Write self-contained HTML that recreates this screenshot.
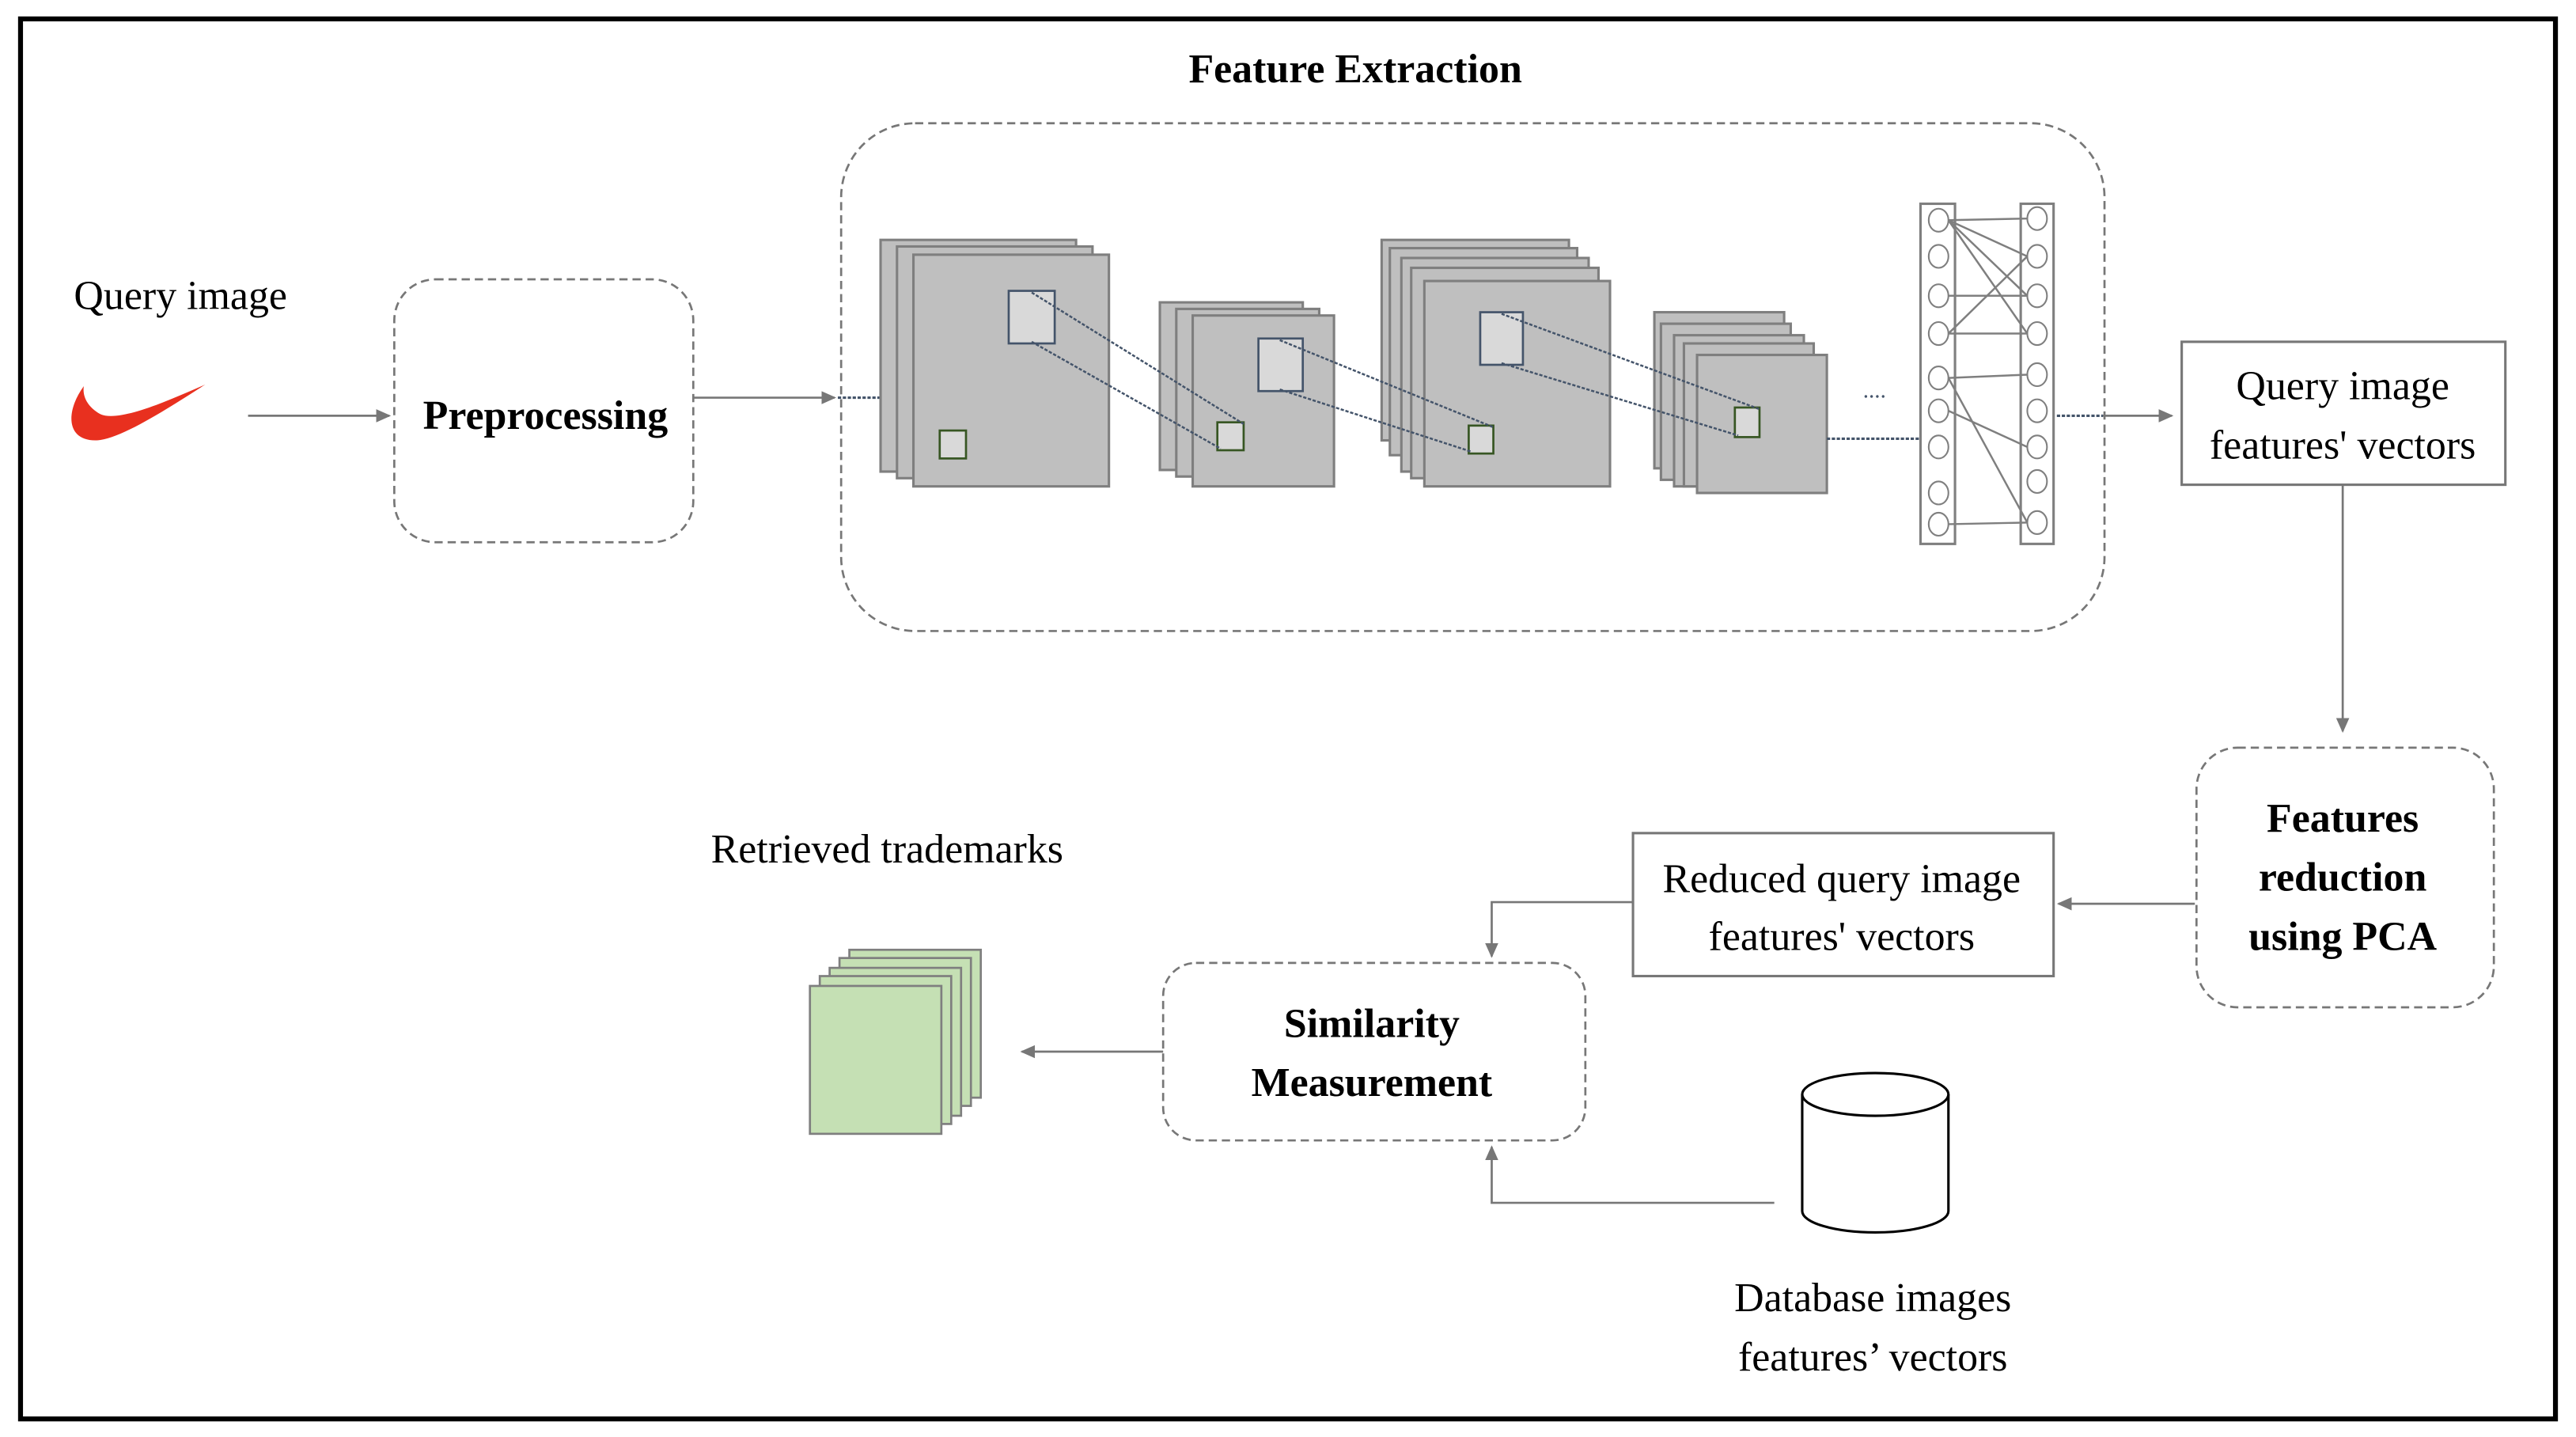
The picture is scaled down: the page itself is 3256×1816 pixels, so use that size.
<!DOCTYPE html>
<html><head><meta charset="utf-8"><style>html,body{margin:0;padding:0;background:#fff}svg{display:block}</style></head>
<body>
<svg width="3256" height="1816" viewBox="0 0 1568 874.5" preserveAspectRatio="none" xmlns="http://www.w3.org/2000/svg" font-family="'Liberation Serif', serif">
<defs>
<marker id="ah" markerWidth="10" markerHeight="10" refX="8" refY="4" orient="auto" markerUnits="userSpaceOnUse"><path d="M0,0 L9,4 L0,8 Z" fill="#777"/></marker>
</defs>
<rect x="0" y="0" width="1568" height="875" fill="#fff"/>
<rect x="12.5" y="11.5" width="1543" height="852" fill="none" stroke="#000" stroke-width="3"/>

<text x="825" y="50" font-size="25" font-weight="bold" text-anchor="middle">Feature Extraction</text>
<rect x="512" y="75" width="769" height="309" rx="45" fill="none" stroke="#777" stroke-width="1.3" stroke-dasharray="5,3"/>

<text x="45" y="188" font-size="25">Query image</text>
<path d="M51,235 C40,250 40,268 58,268 C72,268 100,250 125,234 C100,245 72,257 61,252 C54,248 50,242 51,235Z" fill="#e8301f"/>
<line x1="151" y1="253" x2="237" y2="253" stroke="#777" stroke-width="1.3" marker-end="url(#ah)"/>

<rect x="240" y="170" width="182" height="160" rx="25" fill="none" stroke="#777" stroke-width="1.3" stroke-dasharray="5,3"/>
<text x="332" y="261" font-size="25" font-weight="bold" text-anchor="middle">Preprocessing</text>
<line x1="422" y1="242" x2="508" y2="242" stroke="#777" stroke-width="1.3" marker-end="url(#ah)"/>
<line x1="510" y1="242" x2="536" y2="242" stroke="#44546a" stroke-width="1.5" stroke-dasharray="2,1"/>

<g fill="#bfbfbf" stroke="#7f7f7f" stroke-width="1.5">
<rect x="536" y="146" width="119" height="141"/>
<rect x="546" y="150" width="119" height="141"/>
<rect x="556" y="155" width="119" height="141"/>
<rect x="706" y="184" width="87" height="102"/>
<rect x="716" y="188" width="87" height="102"/>
<rect x="726" y="192" width="86" height="104"/>
<rect x="841" y="146" width="114" height="122"/>
<rect x="846" y="151" width="114" height="126"/>
<rect x="853" y="157" width="114" height="130"/>
<rect x="859" y="163" width="114" height="128"/>
<rect x="867" y="171" width="113" height="125"/>
<rect x="1007" y="190" width="79" height="95"/>
<rect x="1011" y="197" width="79" height="95"/>
<rect x="1019" y="204" width="79" height="92"/>
<rect x="1025" y="209" width="79" height="87"/>
<rect x="1033" y="216" width="79" height="84"/>
</g>
<g fill="#d9d9d9" stroke="#44546a" stroke-width="1.3">
<rect x="614" y="177" width="28" height="32"/>
<rect x="766" y="206" width="27" height="32"/>
<rect x="901" y="190" width="26" height="32"/>
</g>
<g fill="#d9d9d9" stroke="#375623" stroke-width="1.3">
<rect x="572" y="262" width="16" height="17"/>
<rect x="741" y="257" width="16" height="17"/>
<rect x="894" y="259" width="15" height="17"/>
<rect x="1056" y="248" width="15" height="18"/>
</g>
<g stroke="#44546a" stroke-width="1.2" stroke-dasharray="2,1">
<line x1="628" y1="178" x2="757" y2="258"/>
<line x1="628" y1="208" x2="743" y2="273"/>
<line x1="779" y1="207" x2="909" y2="260"/>
<line x1="779" y1="237" x2="896" y2="275"/>
<line x1="914" y1="191" x2="1071" y2="249"/>
<line x1="914" y1="221" x2="1058" y2="265"/>
<line x1="1112" y1="267" x2="1168" y2="267" stroke-width="1.5"/>
<line x1="1252" y1="253" x2="1280" y2="253" stroke-width="1.5"/>
</g>
<text x="1141" y="242" font-size="14" text-anchor="middle" fill="#44546a">....</text>

<g fill="none" stroke="#7f7f7f" stroke-width="1.5">
<rect x="1169" y="124" width="21" height="207"/>
<rect x="1230" y="124" width="20" height="207"/>
<g stroke-width="1">
<ellipse cx="1180" cy="134" rx="6" ry="7"/><ellipse cx="1180" cy="156" rx="6" ry="7"/><ellipse cx="1180" cy="180" rx="6" ry="7"/><ellipse cx="1180" cy="203" rx="6" ry="7"/><ellipse cx="1180" cy="230" rx="6" ry="7"/><ellipse cx="1180" cy="250" rx="6" ry="7"/><ellipse cx="1180" cy="272" rx="6" ry="7"/><ellipse cx="1180" cy="300" rx="6" ry="7"/><ellipse cx="1180" cy="319" rx="6" ry="7"/>
<ellipse cx="1240" cy="133" rx="6" ry="7"/><ellipse cx="1240" cy="156" rx="6" ry="7"/><ellipse cx="1240" cy="180" rx="6" ry="7"/><ellipse cx="1240" cy="203" rx="6" ry="7"/><ellipse cx="1240" cy="228" rx="6" ry="7"/><ellipse cx="1240" cy="250" rx="6" ry="7"/><ellipse cx="1240" cy="272" rx="6" ry="7"/><ellipse cx="1240" cy="293" rx="6" ry="7"/><ellipse cx="1240" cy="318" rx="6" ry="7"/>
</g>
<g stroke-width="1.2">
<line x1="1186" y1="134" x2="1234" y2="133"/><line x1="1186" y1="134" x2="1234" y2="156"/><line x1="1186" y1="134" x2="1234" y2="180"/><line x1="1186" y1="134" x2="1234" y2="203"/>
<line x1="1186" y1="180" x2="1234" y2="180"/><line x1="1186" y1="203" x2="1234" y2="156"/><line x1="1186" y1="203" x2="1234" y2="203"/>
<line x1="1186" y1="230" x2="1234" y2="228"/><line x1="1186" y1="230" x2="1234" y2="318"/><line x1="1186" y1="250" x2="1234" y2="272"/><line x1="1186" y1="319" x2="1234" y2="318"/>
</g>
</g>
<line x1="1280" y1="253" x2="1322" y2="253" stroke="#777" stroke-width="1.3" marker-end="url(#ah)"/>

<rect x="1328" y="208" width="197" height="87" fill="none" stroke="#777" stroke-width="1.5"/>
<text x="1426" y="243" font-size="25" text-anchor="middle">Query image</text>
<text x="1426" y="279" font-size="25" text-anchor="middle">features' vectors</text>
<line x1="1426" y1="295" x2="1426" y2="445" stroke="#777" stroke-width="1.3" marker-end="url(#ah)"/>

<rect x="1337" y="455" width="181" height="158" rx="25" fill="none" stroke="#777" stroke-width="1.3" stroke-dasharray="5,3"/>
<text x="1426" y="506" font-size="25" font-weight="bold" text-anchor="middle">Features</text>
<text x="1426" y="542" font-size="25" font-weight="bold" text-anchor="middle">reduction</text>
<text x="1426" y="578" font-size="25" font-weight="bold" text-anchor="middle">using PCA</text>
<line x1="1336" y1="550" x2="1253" y2="550" stroke="#777" stroke-width="1.3" marker-end="url(#ah)"/>

<rect x="994" y="507" width="256" height="87" fill="none" stroke="#777" stroke-width="1.5"/>
<text x="1121" y="543" font-size="25" text-anchor="middle">Reduced query image</text>
<text x="1121" y="578" font-size="25" text-anchor="middle">features' vectors</text>
<polyline points="994,549 908,549 908,582" fill="none" stroke="#777" stroke-width="1.3" marker-end="url(#ah)"/>

<rect x="708" y="586" width="257" height="108" rx="20" fill="none" stroke="#777" stroke-width="1.3" stroke-dasharray="5,3"/>
<text x="835" y="631" font-size="25" font-weight="bold" text-anchor="middle">Similarity</text>
<text x="835" y="667" font-size="25" font-weight="bold" text-anchor="middle">Measurement</text>
<line x1="708" y1="640" x2="622" y2="640" stroke="#777" stroke-width="1.3" marker-end="url(#ah)"/>

<text x="540" y="525" font-size="25" text-anchor="middle">Retrieved trademarks</text>
<g fill="#c5e0b4" stroke="#7f7f7f" stroke-width="1.3">
<rect x="517" y="578" width="80" height="90"/>
<rect x="511" y="583" width="80" height="90"/>
<rect x="505" y="589" width="80" height="90"/>
<rect x="499" y="594" width="80" height="90"/>
<rect x="493" y="600" width="80" height="90"/>
</g>

<path d="M1097,666 L1097,737 A44.5,13 0 0 0 1186,737 L1186,666" fill="#fff" stroke="#000" stroke-width="1.5"/>
<ellipse cx="1141.5" cy="666" rx="44.5" ry="13" fill="#fff" stroke="#000" stroke-width="1.5"/>
<polyline points="1080,732 908,732 908,698" fill="none" stroke="#777" stroke-width="1.3" marker-end="url(#ah)"/>
<text x="1140" y="798" font-size="25" text-anchor="middle">Database images</text>
<text x="1140" y="834" font-size="25" text-anchor="middle">features’ vectors</text>
</svg>
</body></html>
